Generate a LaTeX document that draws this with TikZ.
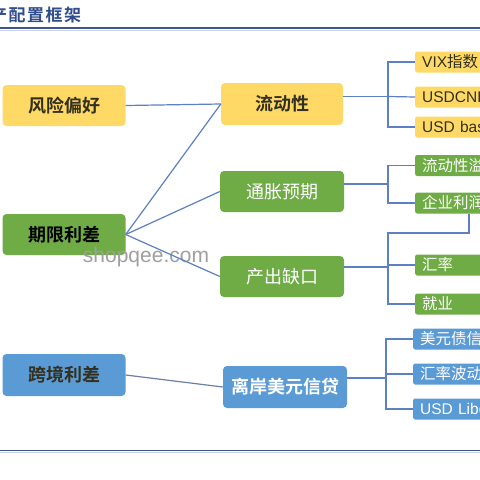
\documentclass[tikz,border=0pt]{standalone}
\usepackage{fontspec}
\setmainfont{Noto Sans CJK SC}
\newfontfamily\cjkb{Noto Sans CJK SC Bold}
\newfontfamily\wm{Liberation Sans}
\usetikzlibrary{calc}
\definecolor{yel}{HTML}{FFD966}
\definecolor{grn}{HTML}{6FAC46}
\definecolor{blu}{HTML}{5B9BD5}
\definecolor{lnk}{HTML}{5D7FC4}
\definecolor{ttl}{HTML}{2F4C8C}
\definecolor{dk}{HTML}{33301F}
\tikzset{
  mainbox/.style={rounded corners=4pt, minimum width=123pt, minimum height=41pt, inner sep=0pt, font=\cjkb\fontsize{18}{20}\selectfont},
  sidebox/.style={anchor=west, rounded corners=2pt, minimum width=110pt, minimum height=21pt, inner ysep=0pt, inner xsep=7pt, text width=96pt, align=left, font=\fontsize{15.5}{17}\selectfont},
  yb/.style={fill=yel, text=dk},
  gb/.style={fill=grn, text=white},
  bb/.style={fill=blu, text=white},
  link/.style={draw=lnk, line width=1.2pt},
  rule/.style={line width=1.6pt, draw=ttl!80!gray}
}
\begin{document}
\begin{tikzpicture}[x=1pt,y=-1pt]
\useasboundingbox (0,0) rectangle (480,480);
\fill[white] (0,0) rectangle (480,480);
% title
\node[anchor=base west, inner sep=0pt, text=ttl, font=\cjkb\fontsize{17}{18}\selectfont] (title) at (-10,21) {产\hspace{1.5pt}配\hspace{1.5pt}置\hspace{1.5pt}框\hspace{1.5pt}架};
\draw[rule] (0,28) -- (480,28);
\draw[line width=0.8pt, draw=ttl!25] (0,30) -- (480,30);
\draw[rule] (0,450.5) -- (480,450.5);
\draw[line width=0.8pt, draw=ttl!25] (0,452.5) -- (480,452.5);
% main boxes
\node[mainbox, yb] (fx) at (64,105.5) {风险偏好};
\node[mainbox, yb, minimum width=122pt, minimum height=42pt] (ld) at (282,104) {流动性};
\node[mainbox, gb, text=black] (qx) at (64,234.5) {期限利差};
\node[mainbox, gb, minimum width=124pt, font=\fontsize{18}{20}\selectfont] (tz) at (282,191.5) {通胀预期};
\node[mainbox, gb, minimum width=124pt, font=\fontsize{18}{20}\selectfont] (cc) at (282,276.5) {产出缺口};
\node[mainbox, bb, text=dk, minimum height=42pt] (kj) at (64,375) {跨境利差};
\node[mainbox, bb, minimum width=124pt, minimum height=42pt] (la) at (285,387) {离岸美元信贷};
% side boxes
\node[sidebox, yb] (r1) at (415,62) {{\wm VIX}指数};
\node[sidebox, yb] (r2) at (415,97) {\wm USDCNH};
\node[sidebox, yb] (r3) at (415,127) {\wm USD basis};
\node[sidebox, gb] (r4) at (415,165.5) {流动性溢价};
\node[sidebox, gb] (r5) at (415,203) {企业利润};
\node[sidebox, gb] (r6) at (415,265) {汇率};
\node[sidebox, gb] (r7) at (415,304) {就业};
\node[sidebox, bb] (r8) at (413,339) {美元债信用};
\node[sidebox, bb] (r9) at (413,374) {汇率波动率};
\node[sidebox, bb] (r10) at (413,409) {\wm USD Libor};
% watermark
\node[text=gray!75, font=\wm\fontsize{21}{23}\selectfont, inner sep=0pt] (wmk) at (146,257) {shopqee.com};
% left connectors
\draw[link] (fx.east) -- (ld.west);
\draw[link] (qx.east) -- (ld.west);
\draw[link] (qx.east) -- (tz.west);
\draw[link] (qx.east) -- (cc.west);
\draw[line width=1.2pt, draw=lnk!60!gray] (kj.east) -- (la.west);
% brackets
\coordinate (b1) at (388,96.5);
\draw[link] (b1 -| ld.east) -- (b1);
\draw[link] (r1.west) -| (b1) |- (r3.west);
\draw[link] (b1) -- (r2.west);
\coordinate (b2) at (388,184);
\draw[link] (b2 -| tz.east) -- (b2);
\draw[link] (r4.west) -| (b2) |- (r5.west);
\coordinate (b3) at (388,267);
\draw[link] (b3 -| cc.east) -- (b3);
\coordinate (t5) at ($(r5.south west)+(54,0)$);
\draw[link] (t5) |- (388,233) |- (r7.west);
\draw[link] (r6.west -| b3) -- (r6.west);
\coordinate (b4) at (386,378);
\draw[link] (b4 -| la.east) -- (b4);
\draw[link] (r8.west) -| (b4) |- (r10.west);
\draw[link] (r9.west -| b4) -- (r9.west);
\end{tikzpicture}
\end{document}
